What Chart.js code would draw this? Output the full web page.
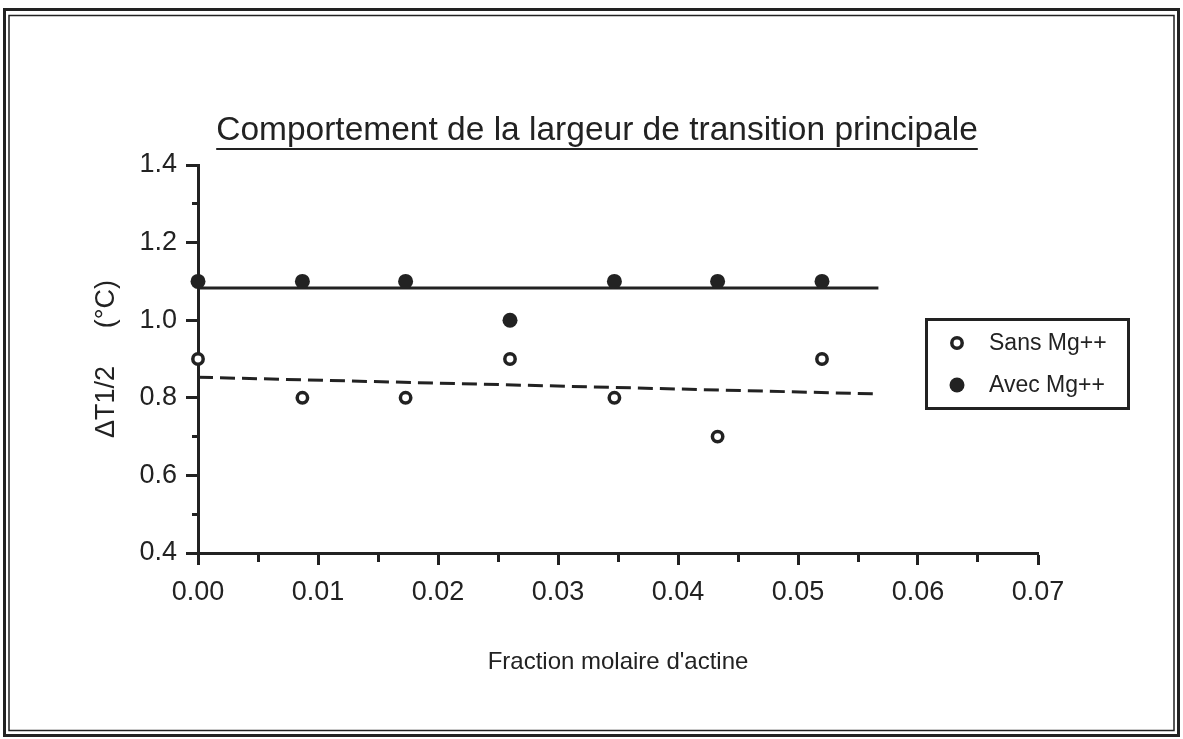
<!DOCTYPE html>
<html><head><meta charset="utf-8">
<script src="https://cdn.jsdelivr.net/npm/chart.js@4"></script>
<style>html,body{margin:0;padding:0;background:#fff;overflow:hidden}</style>
</head><body>
<canvas id="c" width="1183" height="739"></canvas>
<script>
// ---- data ----
const fractionActine = [0, 0.0087, 0.0173, 0.026, 0.0347, 0.0433, 0.052];
const sansMg = [0.9, 0.8, 0.8, 0.9, 0.8, 0.7, 0.9];
const avecMg = [1.1, 1.1, 1.1, 1.0, 1.1, 1.1, 1.1];
const fitX = [0, 0.0567];
const fitSans = [0.853, 0.81];
const fitAvec = [1.083, 1.083];
const seriesLabels = ['Sans Mg++', 'Avec Mg++'];
const titleText = 'Comportement de la largeur de transition principale';
const xTitle = "Fraction molaire d'actine";
const yTitle = '\u0394T1/2     (\u00B0C)';
const yRange = [0.4, 1.4];
const xRange = [0, 0.07];

const INK = '#222';
const FONT = '"Liberation Sans", Arial, Helvetica, sans-serif';

const pts = (xs, ys) => xs.map((x, i) => ({x: x, y: ys[i]}));

const decor = {
  id: 'decor',
  beforeDraw(chart) {
    const ctx = chart.ctx;
    ctx.save();
    ctx.fillStyle = '#fff';
    ctx.fillRect(0, 0, chart.width, chart.height);
    ctx.restore();
  },
  afterDraw(chart) {
    const ctx = chart.ctx;
    ctx.save();
    // frame
    ctx.strokeStyle = INK;
    ctx.lineWidth = 3;
    ctx.strokeRect(4.5, 9.5, 1174, 726);
    ctx.lineWidth = 1.5;
    ctx.strokeRect(9, 15.5, 1165, 715);
    // title
    ctx.fillStyle = INK;
    ctx.font = '33.5px ' + FONT;
    ctx.textAlign = 'center';
    ctx.textBaseline = 'alphabetic';
    const tx = 597, ty = 140;
    ctx.fillText(titleText, tx, ty);
    const w = ctx.measureText(titleText).width;
    ctx.lineWidth = 2;
    ctx.beginPath();
    ctx.moveTo(tx - w / 2, ty + 9);
    ctx.lineTo(tx + w / 2, ty + 9);
    ctx.stroke();
    // legend
    ctx.lineWidth = 3;
    ctx.strokeRect(926.5, 319.5, 202, 89);
    const ds = chart.data.datasets;
    const rows = [343, 385];
    ctx.font = '23px ' + FONT;
    ctx.textAlign = 'left';
    ctx.textBaseline = 'middle';
    for (let i = 0; i < 2; i++) {
      const d = ds[i];
      ctx.beginPath();
      ctx.arc(957, rows[i], d.pointRadius, 0, Math.PI * 2);
      ctx.fillStyle = d.backgroundColor;
      ctx.fill();
      if (d.borderWidth > 0) {
        ctx.lineWidth = d.borderWidth;
        ctx.strokeStyle = d.borderColor;
        ctx.stroke();
      }
      ctx.fillStyle = INK;
      ctx.fillText(d.label, 989, rows[i] + 1);
    }
    ctx.restore();
  }
};

const isMinorY = v => Math.round(v * 10) % 2 === 1;
const isMinorX = v => Math.round(v * 1000) % 10 === 5;

new Chart(document.getElementById('c'), {
  type: 'scatter',
  data: {
    datasets: [
      {label: seriesLabels[0], data: pts(fractionActine, sansMg), pointRadius: 5.2, pointHoverRadius: 5.2,
       borderWidth: 3.5, borderColor: INK, backgroundColor: '#fff', showLine: false, clip: false},
      {label: seriesLabels[1], data: pts(fractionActine, avecMg), pointRadius: 7.5, pointHoverRadius: 7.5,
       borderWidth: 0, borderColor: INK, backgroundColor: INK, showLine: false, clip: false},
      {label: 'fit sans', data: pts(fitX, fitSans), showLine: true, pointRadius: 0, borderColor: INK,
       borderWidth: 3, borderDash: [15, 7], clip: false},
      {label: 'fit avec', data: pts(fitX, fitAvec), showLine: true, pointRadius: 0, borderColor: INK,
       borderWidth: 3, clip: false}
    ]
  },
  options: {
    responsive: false,
    animation: false,
    events: [],
    layout: {padding: {top: 165, right: 145, left: 0, bottom: 0}},
    plugins: {legend: {display: false}, tooltip: {enabled: false}, title: {display: false}},
    scales: {
      x: {
        type: 'linear', min: xRange[0], max: xRange[1],
        afterFit(s) { s.height = 739 - 553; },
        border: {display: true, color: INK, width: 3},
        grid: {drawOnChartArea: false, drawTicks: true, tickLength: 12, tickWidth: 3, tickColor: INK,
               tickBorderDash: c => isMinorX(c.tick.value) ? [7, 1000] : []},
        ticks: {stepSize: 0.005, autoSkip: false, maxRotation: 0, padding: 11, color: INK,
                font: {family: FONT, size: 27},
                callback: v => isMinorX(v) ? '' : v.toFixed(2)},
        title: {display: true, text: xTitle, color: INK, font: {family: FONT, size: 24},
                padding: {top: 0, bottom: 62}}
      },
      y: {
        type: 'linear', min: yRange[0], max: yRange[1],
        afterFit(s) { s.width = 198; },
        border: {display: true, color: INK, width: 3},
        grid: {drawOnChartArea: false, drawTicks: true, tickLength: 12, tickWidth: 3, tickColor: INK,
               tickBorderDash: c => isMinorY(c.tick.value) ? [0, 6, 8, 1000] : []},
        ticks: {stepSize: 0.1, autoSkip: false, padding: 9, color: INK,
                font: {family: FONT, size: 27},
                callback: v => isMinorY(v) ? '' : v.toFixed(1)},
        title: {display: true, text: yTitle, color: INK, font: {family: FONT, size: 27},
                padding: {top: 90, bottom: 0}}
      }
    }
  },
  plugins: [decor]
});
</script>
</body></html>
